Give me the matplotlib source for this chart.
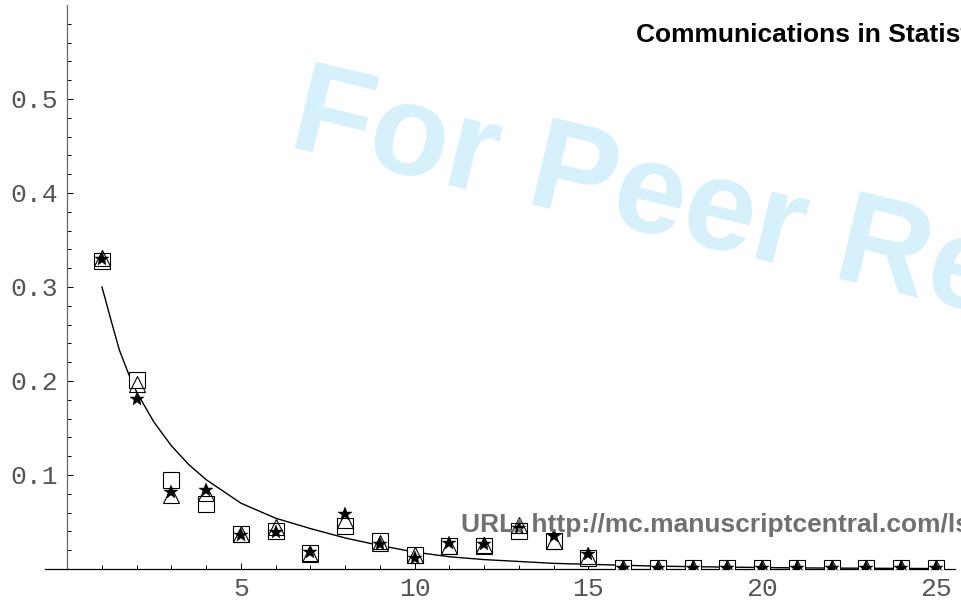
import numpy as np
import matplotlib
matplotlib.use("Agg")
import matplotlib.pyplot as plt
from matplotlib.ticker import MultipleLocator, FixedLocator

# ──────────────────────────────
# Data
# ──────────────────────────────
x_pts = list(range(1, 26))

squares = [0.328, 0.201, 0.095, 0.069, 0.037, 0.040, 0.017, 0.046, 0.030, 0.0145,
           0.025, 0.025, 0.040, 0.030, 0.012] + [0.0008] * 10
triangles = [0.331, 0.197, 0.079, 0.081, 0.037, 0.045, 0.016, 0.052, 0.028, 0.015,
             0.025, 0.026, 0.047, 0.030, 0.014] + [0.0008] * 10
stars = [0.330, 0.181, 0.082, 0.084, 0.036, 0.039, 0.018, 0.058, 0.027, 0.012,
         0.028, 0.027, 0.044, 0.035, 0.016] + [0.0008] * 10

curve_x = [1, 1.25, 1.5, 1.75, 2, 2.5, 3, 3.5, 4, 5, 6, 7, 8, 9, 10, 11, 12, 13,
           14, 15, 16, 17, 19, 21, 23, 25]
curve_y = [0.300, 0.266, 0.233, 0.209, 0.188, 0.156, 0.131, 0.111, 0.095, 0.070,
           0.054, 0.043, 0.033, 0.025, 0.018, 0.013, 0.010, 0.008, 0.006, 0.005,
           0.004, 0.003, 0.002, 0.0012, 0.0008, 0.0005]

x_major = [5, 10, 15, 20, 25]
y_major = [0.1, 0.2, 0.3, 0.4, 0.5]

# ──────────────────────────────
# Figure
# ──────────────────────────────
W, H = 962, 604
fig = plt.figure(figsize=(W / 100, H / 100), dpi=100)

# watermark behind everything
fig.text(286 / W, 1 - 146 / H, "For Peer Review", fontsize=93,
         family="Liberation Sans", weight="bold", color="#d6f0fc",
         rotation=-13.5, rotation_mode="anchor", ha="left", va="baseline",
         zorder=0)

ax = fig.add_axes([45 / W, (H - 569) / H, (955 - 45) / W, (569 - 5) / H])
ax.patch.set_alpha(0)
ax.set_xlim(-0.64, 25.55)
ax.set_ylim(0, 0.6)

ax.plot(curve_x, curve_y, color="black", lw=1.0, zorder=2)

ax.plot(x_pts, squares, ls="none", marker="s", ms=11.5, mfc="white",
        mec="black", mew=0.8, zorder=3)
ax.plot(x_pts, triangles, ls="none", marker="^", ms=11, mfc="none",
        mec="black", mew=0.8, zorder=4)
ax.plot(x_pts, stars, ls="none", marker="*", ms=10, mfc="black",
        mec="black", mew=0.3, zorder=5)

# ───── axes styling (Mathematica look) ─────
for s in ("top", "right"):
    ax.spines[s].set_visible(False)
ax.spines["left"].set_position(("data", 0))
ax.spines["left"].set_color("#666666")
ax.spines["left"].set_linewidth(0.9)
ax.spines["bottom"].set_linewidth(0.9)

ax.xaxis.set_major_locator(FixedLocator(x_major))
ax.xaxis.set_minor_locator(MultipleLocator(1))
ax.yaxis.set_major_locator(FixedLocator(y_major))
ax.yaxis.set_minor_locator(FixedLocator(np.arange(0.02, 0.59, 0.02)))
ax.set_xticklabels([str(v) for v in x_major])
ax.set_yticklabels(["%.1f" % v for v in y_major])

ax.tick_params(which="both", direction="in", width=0.7, color="black")
ax.tick_params(which="major", length=4.3)
ax.tick_params(which="minor", length=2.9)
ax.tick_params(axis="y", pad=7)
ax.tick_params(axis="x", pad=6)
for lab in ax.get_xticklabels() + ax.get_yticklabels():
    lab.set_family("Liberation Mono")
    lab.set_fontsize(19)
    lab.set_color("#555555")

# header / footer stamps (cut off at the right edge, as in the source)
fig.text(636 / W, 1 - 42 / H, "Communications in Statistics", fontsize=19,
         family="Liberation Sans", weight="bold", color="black",
         ha="left", va="baseline", zorder=1)
fig.text(461 / W, 1 - 532 / H, "URL: http://mc.manuscriptcentral.com/lsta",
         fontsize=19, family="Liberation Sans", weight="bold",
         color="#707070", ha="left", va="baseline", zorder=1)

fig.savefig("out.png", dpi=100)
